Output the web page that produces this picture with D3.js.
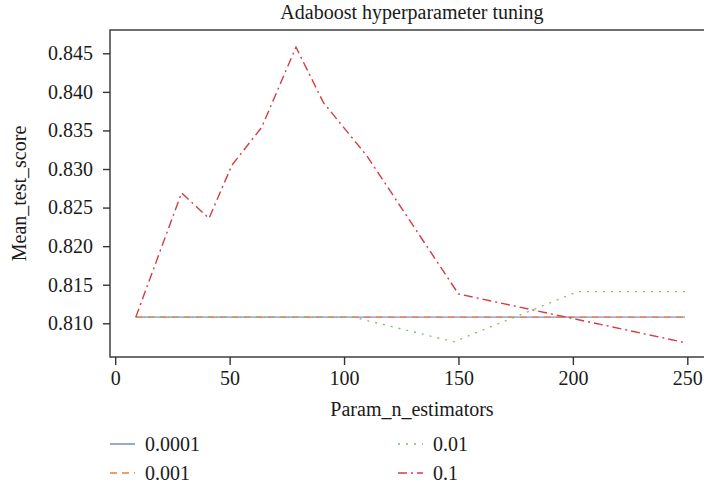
<!DOCTYPE html>
<html>
<head>
<meta charset="utf-8">
<script src="https://cdn.jsdelivr.net/npm/d3@7"></script>
<style>
  body { margin: 0; background: #fff; }
</style>
</head>
<body>
<svg width="704" height="487"></svg>
<script>
// learning rates (legend entries)
const rates = ["0.0001", "0.001", "0.01", "0.1"];

// n_estimators and mean test score per learning rate
const xBlue = [9, 249];
const yBlue = [0.8108, 0.8108];
const xOrange = [9, 249];
const yOrange = [0.8108, 0.8108];
const xGreen = [9, 104, 148, 202, 249];
const yGreen = [0.8108, 0.8108, 0.8076, 0.8141, 0.8141];
const xRed = [9, 29, 41, 51, 64, 79, 91, 110, 150, 249];
const yRed = [0.8108, 0.8269, 0.8236, 0.8305, 0.8354, 0.8458, 0.8386, 0.8317, 0.8138, 0.8075];

const xTicks = [0, 50, 100, 150, 200, 250];
const yTicks = [0.810, 0.815, 0.820, 0.825, 0.830, 0.835, 0.840, 0.845];

const colors = ["#7b94c9", "#ee7c3c", "#76c479", "#d63b44"];
const dashes = [null, "7,5", "2,6", "9,4,2,4"];

const serif = "'Liberation Serif', 'DejaVu Serif', serif";

const svg = d3.select("svg");
const plotLeft = 110, plotRight = 714, plotTop = 30, plotBottom = 357;

const x = d3.scaleLinear().domain([0, 250]).range([115.2, 687.3]);
const y = d3.scaleLinear().domain([0.810, 0.845]).range([323.3, 53.3]);

// frame
svg.append("rect")
  .attr("x", plotLeft).attr("y", plotTop)
  .attr("width", plotRight - plotLeft).attr("height", plotBottom - plotTop)
  .attr("fill", "none").attr("stroke", "#333").attr("stroke-width", 1.4);

// axes
const xAxis = svg.append("g")
  .attr("transform", `translate(0,${plotBottom})`)
  .call(d3.axisBottom(x).tickValues(xTicks).tickSize(8).tickPadding(6).tickFormat(d3.format("d")));
const yAxis = svg.append("g")
  .attr("transform", `translate(${plotLeft},0)`)
  .call(d3.axisLeft(y).tickValues(yTicks).tickSize(7).tickPadding(10).tickFormat(d3.format(".3f")));

[xAxis, yAxis].forEach(g => {
  g.attr("font-family", serif).attr("font-size", 20);
  g.select(".domain").remove();
  g.selectAll(".tick line").attr("stroke", "#333").attr("stroke-width", 1.4);
  g.selectAll("text").attr("fill", "#1a1a1a");
});

// series
const series = [
  { xs: xBlue, ys: yBlue },
  { xs: xOrange, ys: yOrange },
  { xs: xGreen, ys: yGreen },
  { xs: xRed, ys: yRed }
];

const line = d3.line().x(d => x(d[0])).y(d => y(d[1]));

series.forEach((s, i) => {
  svg.append("path")
    .datum(d3.zip(s.xs, s.ys))
    .attr("d", line)
    .attr("fill", "none")
    .attr("stroke", colors[i])
    .attr("stroke-width", 1.4)
    .attr("stroke-dasharray", dashes[i]);
});

// title and axis labels
const labels = svg.append("g")
  .attr("font-family", serif)
  .attr("font-size", 20)
  .attr("fill", "#1a1a1a");

labels.append("text")
  .attr("x", (plotLeft + plotRight) / 2).attr("y", 19)
  .attr("text-anchor", "middle")
  .text("Adaboost hyperparameter tuning");

labels.append("text")
  .attr("x", (plotLeft + plotRight) / 2).attr("y", 416)
  .attr("text-anchor", "middle")
  .text("Param_n_estimators");

labels.append("text")
  .attr("transform", `translate(26,${(plotTop + plotBottom) / 2}) rotate(-90)`)
  .attr("text-anchor", "middle")
  .text("Mean_test_score");

// legend
const legendPos = [
  { lx: 110, ly: 444 },
  { lx: 110, ly: 473 },
  { lx: 398, ly: 444 },
  { lx: 398, ly: 473 }
];

const legend = labels.append("g")
  .selectAll("g")
  .data(rates)
  .enter()
  .append("g")
  .attr("transform", (d, i) => `translate(${legendPos[i].lx},${legendPos[i].ly})`);

legend.append("line")
  .attr("x1", 0).attr("x2", 25)
  .attr("stroke", (d, i) => colors[i])
  .attr("stroke-width", 1.6)
  .attr("stroke-dasharray", (d, i) => dashes[i]);

legend.append("text")
  .attr("x", 35).attr("dy", "0.35em")
  .text(d => d);
</script>
</body>
</html>
